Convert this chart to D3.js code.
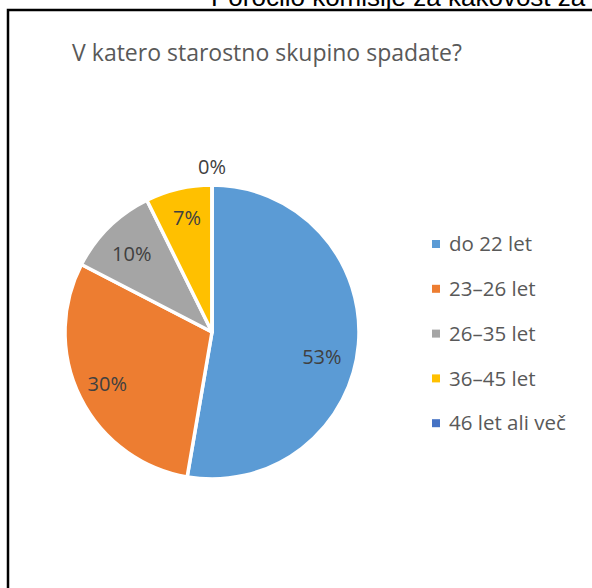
<!DOCTYPE html>
<html>
<head>
<meta charset="utf-8">
<script src="https://cdn.jsdelivr.net/npm/d3@7"></script>
<style>
  body { margin: 0; background: #fff; }
  svg { display: block; }
</style>
</head>
<body>
<div id="chart"></div>
<script>
// data
var categories = ["do 22 let", "23–26 let", "26–35 let", "36–45 let", "46 let ali več"];
var shares = [52.7, 29.9, 10.1, 7.3, 0];
var colors = ["#5B9BD5", "#ED7D31", "#A5A5A5", "#FFC000", "#4472C4"];
var chartTitle = "V katero starostno skupino spadate?";
var pageHeader = "Poročilo komisije za kakovost za";

// label nudges (px), excel's placement is not a plain centroid
var labelNudge = [[0, 16], [-6, 3], [-3, 1], [0, -7], [0, 0]];

var width = 592;
var height = 588;
var cx = 212, cy = 332, radius = 147;

var svg = d3.select("#chart").append("svg")
  .attr("width", width)
  .attr("height", height);

/* page header, cut at the top */
svg.append("text")
  .attr("x", 211)
  .attr("y", 6)
  .attr("font-family", "Liberation Sans, Arial, sans-serif")
  .attr("font-size", "26px")
  .attr("fill", "#000")
  .text(pageHeader);

/* frame */
svg.append("path")
  .attr("d", "M8,588 L8,10 L592,10")
  .attr("fill", "none")
  .attr("stroke", "#000")
  .attr("stroke-width", 2.5);

/* title */
svg.append("text")
  .attr("x", 267)
  .attr("y", 61)
  .attr("text-anchor", "middle")
  .attr("font-family", "Open Sans, sans-serif")
  .attr("font-size", "23px")
  .attr("fill", "#595959")
  .text(chartTitle);

/* pie */
var data = categories.map(function(c, i) {
  return { name: c, value: shares[i], color: colors[i] };
});

var total = d3.sum(shares);
var pie = d3.pie().sort(null).value(function(d) { return d.value; });
var arc = d3.arc().innerRadius(0).outerRadius(radius);

var g = svg.append("g")
  .attr("transform", "translate(" + cx + "," + cy + ")");

var arcs = pie(data);

g.selectAll("path.slice")
  .data(arcs).enter()
  .append("path")
  .attr("class", "slice")
  .attr("d", arc)
  .attr("fill", function(d) { return d.data.color; })
  .attr("stroke", "#fff")
  .attr("stroke-width", 3.5)
  .attr("stroke-linejoin", "round");

/* data labels */
var labelArc = d3.arc().innerRadius(radius * 0.75).outerRadius(radius * 0.75);
var outArc = d3.arc().innerRadius(radius * 1.12).outerRadius(radius * 1.12);

g.selectAll("text.lbl")
  .data(arcs).enter()
  .append("text")
  .attr("class", "lbl")
  .attr("transform", function(d, i) {
    var p = d.data.value > 0 ? labelArc.centroid(d) : outArc.centroid(d);
    return "translate(" + (p[0] + labelNudge[i][0]) + "," + (p[1] + labelNudge[i][1]) + ")";
  })
  .attr("dy", "0.35em")
  .attr("text-anchor", "middle")
  .attr("font-family", "Open Sans, sans-serif")
  .attr("font-size", "20px")
  .attr("fill", "#404040")
  .text(function(d) { return Math.round(d.data.value / total * 100) + "%"; });

/* legend */
var legend = svg.append("g")
  .attr("transform", "translate(432,244)");

var item = legend.selectAll("g.item")
  .data(data).enter()
  .append("g")
  .attr("class", "item")
  .attr("transform", function(d, i) { return "translate(0," + (i * 44.8) + ")"; });

item.append("rect")
  .attr("x", 0)
  .attr("y", -4)
  .attr("width", 8)
  .attr("height", 8)
  .attr("fill", function(d) { return d.color; });

item.append("text")
  .attr("x", 17)
  .attr("y", 0)
  .attr("dy", "0.35em")
  .attr("font-family", "Open Sans, sans-serif")
  .attr("font-size", "20.5px")
  .attr("fill", "#595959")
  .text(function(d) { return d.name; });
</script>
</body>
</html>
